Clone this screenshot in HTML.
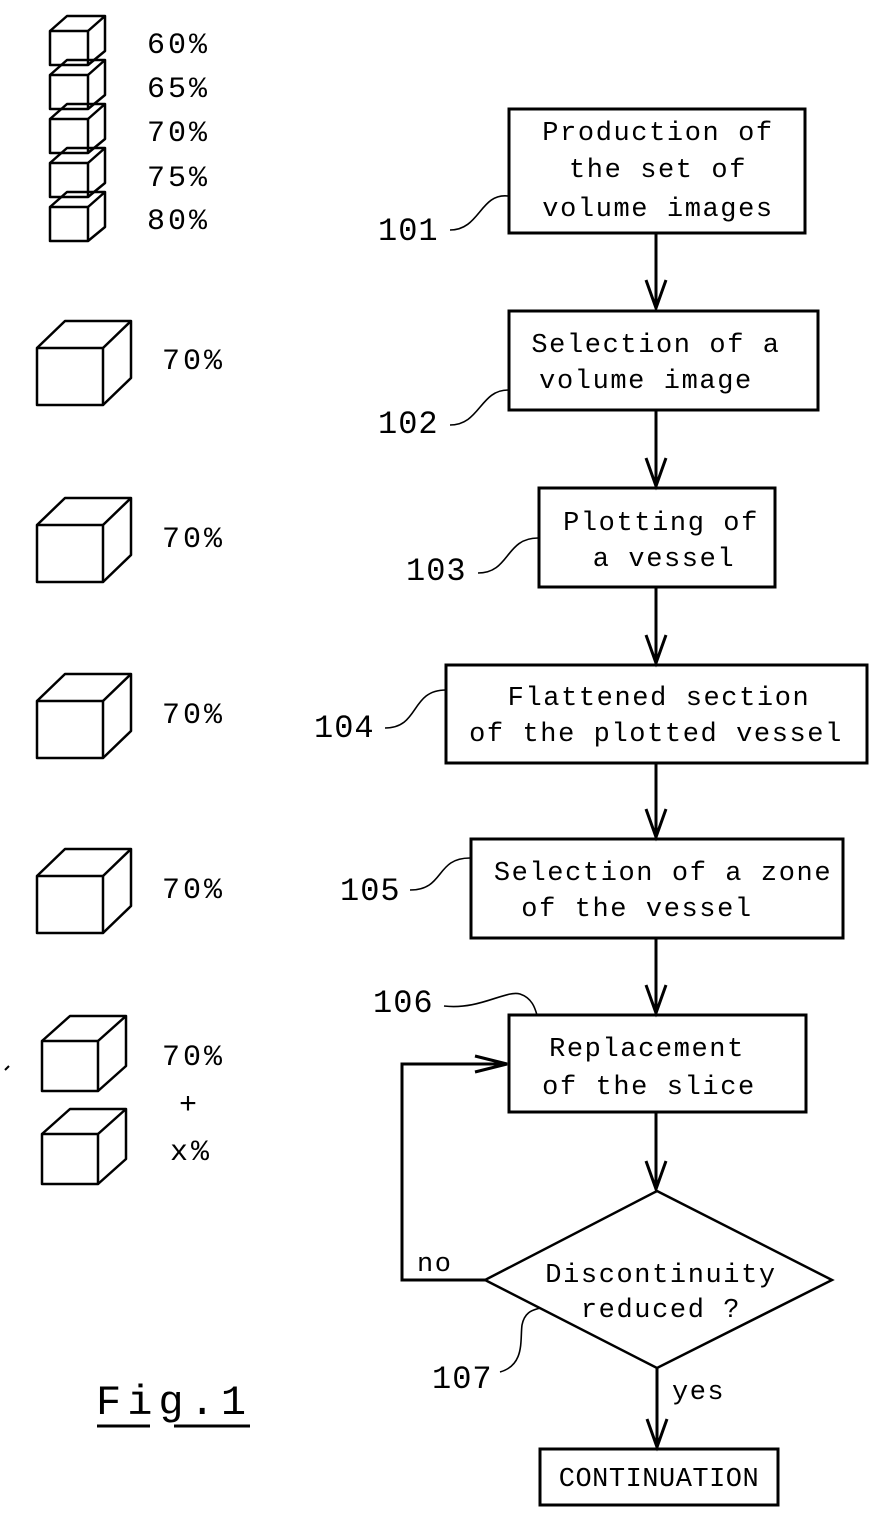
<!DOCTYPE html>
<html><head><meta charset="utf-8"><style>
html,body{margin:0;padding:0;background:#fff}
svg{display:block}
text{font-family:"Liberation Mono",monospace;fill:#000}
</style></head><body>
<svg width="896" height="1527" viewBox="0 0 896 1527" xmlns="http://www.w3.org/2000/svg">
<defs>
<g id="sc" fill="none" stroke="#000" stroke-width="2.5" stroke-linejoin="round">
<rect x="0" y="0" width="38" height="34"/>
<path d="M0 0 L17 -15 L55 -15 L38 0 M55 -15 L55 20 L38 34"/>
</g>
<g id="bc" fill="none" stroke="#000" stroke-width="2.5" stroke-linejoin="round">
<rect x="0" y="0" width="66" height="57"/>
<path d="M0 0 L28 -27 L94 -27 L66 0 M94 -27 L94 30 L66 57"/>
</g>
<g id="mc" fill="none" stroke="#000" stroke-width="2.5" stroke-linejoin="round">
<rect x="0" y="0" width="56" height="50"/>
<path d="M0 0 L28 -25 L84 -25 L56 0 M84 -25 L84 25 L56 50"/>
</g>
</defs>
<use href="#sc" x="50" y="31"/>
<use href="#sc" x="50" y="75"/>
<use href="#sc" x="50" y="119"/>
<use href="#sc" x="50" y="163"/>
<use href="#sc" x="50" y="207"/>
<g font-size="30" letter-spacing="3">
<text x="147" y="53">60%</text>
<text x="147" y="97">65%</text>
<text x="147" y="141">70%</text>
<text x="147" y="186">75%</text>
<text x="147" y="229">80%</text>
<text x="162" y="369">70%</text>
<text x="162" y="547">70%</text>
<text x="162" y="723">70%</text>
<text x="162" y="898">70%</text>
<text x="162" y="1065">70%</text>
<text x="179" y="1113">+</text>
<text x="170" y="1160">x%</text>
</g>
<use href="#bc" x="37" y="348"/>
<use href="#bc" x="37" y="525"/>
<use href="#bc" x="37" y="701"/>
<use href="#bc" x="37" y="876"/>
<use href="#mc" x="42" y="1041"/>
<use href="#mc" x="42" y="1134"/>
<path d="M5 1070 L9 1066" stroke="#000" stroke-width="2"/>
<text x="96" y="1414" font-size="42" letter-spacing="6">Fig.1</text>
<path d="M97 1426 H150 M174 1426 H250" stroke="#000" stroke-width="3"/>

<g fill="none" stroke="#000" stroke-width="3">
<rect x="509" y="109" width="296" height="124"/>
<rect x="509" y="311" width="309" height="99"/>
<rect x="539" y="488" width="236" height="99"/>
<rect x="446" y="665" width="421" height="98"/>
<rect x="471" y="839" width="372" height="99"/>
<rect x="509" y="1015" width="297" height="97"/>
<rect x="540" y="1449" width="238" height="56"/>
<path d="M657 1191 L832 1280 L657 1368 L485 1280 Z" stroke-width="2.5"/>
<path d="M656 233 V308 M656 410 V486 M656 587 V663 M656 763 V837 M656 938 V1013 M656 1112 V1189 M657 1368 V1447"/>
<path d="M646 280 L656 308 L666 280 M646 458 L656 486 L666 458 M646 635 L656 663 L666 635 M646 809 L656 837 L666 809 M646 985 L656 1013 L666 985 M646 1161 L656 1189 L666 1161 M647 1419 L657 1447 L667 1419"/>
<path d="M485 1280 H402 V1064 H507"/>
<path d="M475 1056 L507 1064 L475 1072"/>
</g>
<g fill="none" stroke="#000" stroke-width="1.6">
<path d="M450 230 C480 230 480 193 508 196"/>
<path d="M450 425 C480 425 480 390 508 390"/>
<path d="M478 573 C510 573 505 538 538 538"/>
<path d="M385 728 C420 728 410 690 446 690"/>
<path d="M410 890 C445 890 435 858 470 858"/>
<path d="M444 1006 C480 1010 505 990 520 994 C532 998 535 1008 537 1015"/>
<path d="M500 1372 C525 1365 520 1340 522 1325 C525 1310 535 1310 540 1308"/>
</g>
<g font-size="32" letter-spacing="1">
<text x="378" y="240">101</text>
<text x="378" y="433">102</text>
<text x="406" y="580">103</text>
<text x="314" y="737">104</text>
<text x="340" y="900">105</text>
<text x="373" y="1012">106</text>
<text x="432" y="1388">107</text>
</g>
<g font-size="27" text-anchor="middle" letter-spacing="1.6">
<text x="658" y="140">Production of</text>
<text x="658" y="177">the set of</text>
<text x="658" y="216">volume images</text>
<text x="656" y="352">Selection of a</text>
<text x="646" y="388">volume image</text>
<text x="661" y="530">Plotting of</text>
<text x="664" y="566">a vessel</text>
<text x="659" y="705">Flattened section</text>
<text x="656" y="741">of the plotted vessel</text>
<text x="663" y="880">Selection of a zone</text>
<text x="637" y="916">of the vessel</text>
<text x="647" y="1056">Replacement</text>
<text x="649" y="1094">of the slice</text>
<text x="661" y="1282">Discontinuity</text>
<text x="661" y="1317">reduced ?</text>
<text x="659" y="1486" letter-spacing="0.5">CONTINUATION</text>
</g>
<g font-size="27" letter-spacing="1.5">
<text x="417" y="1271">no</text>
<text x="672" y="1399">yes</text>
</g>
</svg>
</body></html>
